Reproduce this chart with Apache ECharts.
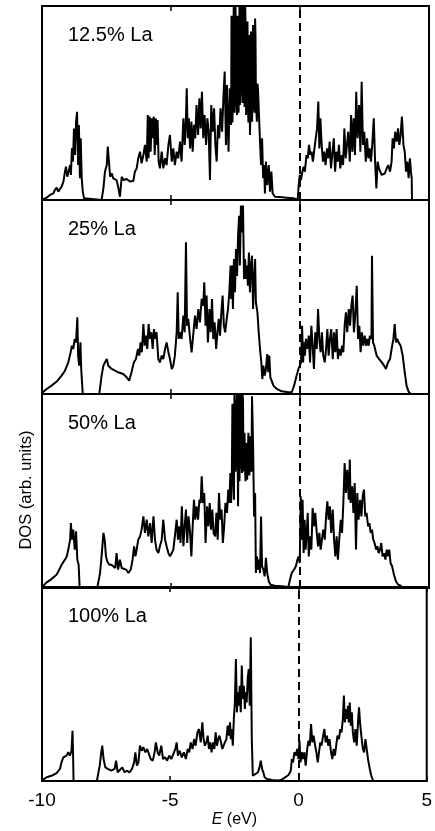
<!DOCTYPE html>
<html><head><meta charset="utf-8">
<script src="https://cdn.jsdelivr.net/npm/echarts@6/dist/echarts.min.js"></script>
<style>html,body{margin:0;padding:0;background:#fff}#c{width:435px;height:831px}</style>
</head><body><div id="c"></div>
<script>
const panelLabels = ['12.5% La', '25% La', '50% La', '100% La'];
const xTicks = [-10, -5, 0, 5];
const tickLabels = ['-10', '-5', '0', '5'];

// [E (eV), DOS (arb. units)]
const dos125 = [[-10,0],[-9.95,0],[-9.82,1.2],[-9.69,2.6],[-9.56,3.4],[-9.50,5.2],[-9.43,6.4],[-9.37,4.3],[-9.30,3.4],[-9.24,6.9],[-9.17,9.5],[-9.11,14.6],[-9.07,17.2],[-9.02,12],[-8.97,14.6],[-8.91,18],[-8.88,12.9],[-8.84,26.6],[-8.80,19.8],[-8.76,36.9],[-8.72,23.2],[-8.68,40.4],[-8.64,45.5],[-8.60,18],[-8.57,38.7],[-8.53,11.2],[-8.50,31.8],[-8.46,11.2],[-8.42,4.3],[-8.37,0.9],[-8.33,0],[-7.69,0],[-7.62,6],[-7.56,14.6],[-7.49,18],[-7.45,27.5],[-7.40,28.4],[-7.36,12],[-7.30,13.7],[-7.24,11.2],[-7.17,12],[-7.11,10.3],[-7.05,6.9],[-6.98,1.7],[-6.91,12],[-6.85,10.3],[-6.72,10.8],[-6.59,9.5],[-6.46,9.8],[-6.40,14.6],[-6.33,16.3],[-6.27,21.5],[-6.20,24.9],[-6.14,18.9],[-6.07,23.2],[-6.01,28.4],[-5.94,19.8],[-5.90,43.8],[-5.87,21.5],[-5.83,43],[-5.79,24.9],[-5.75,42.1],[-5.71,31.8],[-5.67,43],[-5.63,23.2],[-5.59,42.1],[-5.56,28.4],[-5.52,41.2],[-5.48,19.8],[-5.43,16.3],[-5.36,24.9],[-5.30,16.3],[-5.23,21.5],[-5.17,18],[-5.10,28.4],[-5.04,33.5],[-4.97,19.8],[-4.91,26.6],[-4.85,18],[-4.78,24.9],[-4.72,21.5],[-4.65,30.1],[-4.59,19.8],[-4.52,42.1],[-4.47,28.4],[-4.43,38.7],[-4.39,57.6],[-4.35,31.8],[-4.31,42.1],[-4.26,26.6],[-4.21,40.4],[-4.16,24.9],[-4.11,38.7],[-4.06,31.8],[-4.01,49],[-3.95,33.5],[-3.90,52.4],[-3.85,36.9],[-3.80,55.8],[-3.75,31.8],[-3.70,43.8],[-3.64,28.4],[-3.59,42.1],[-3.54,35.2],[-3.49,10.3],[-3.44,49],[-3.38,35.2],[-3.33,47.3],[-3.28,28.4],[-3.23,19.8],[-3.18,38.7],[-3.13,31.8],[-3.08,47.3],[-3.02,35.2],[-2.97,52.4],[-2.92,66.2],[-2.87,28.4],[-2.83,59.3],[-2.77,24.9],[-2.72,57.6],[-2.67,38.7],[-2.64,83.3],[-2.60,49],[-2.56,105],[-2.52,57.6],[-2.48,78.2],[-2.44,43.8],[-2.40,69.6],[-2.36,79.9],[-2.33,49],[-2.29,74.7],[-2.25,105],[-2.21,57.6],[-2.17,83.3],[-2.13,105],[-2.09,43.8],[-2.05,74.7],[-2.02,52.4],[-1.98,69.6],[-1.94,33.5],[-1.90,86.8],[-1.86,40.4],[-1.82,90.2],[-1.78,49],[-1.74,93.6],[-1.71,55.8],[-1.67,40.4],[-1.63,57.6],[-1.59,43.8],[-1.55,30.1],[-1.51,18],[-1.47,31.8],[-1.43,11.2],[-1.39,18],[-1.36,3.4],[-1.32,19.8],[-1.27,7.7],[-1.21,18],[-1.16,4.3],[-1.11,14.6],[-1.06,3.4],[-0.97,1.7],[-0.78,1.5],[-0.52,1.2],[-0.26,0.9],[-0.09,0.2],[-0.05,7.7],[-0.01,12.9],[0.04,10.3],[0.09,14.6],[0.14,17.2],[0.19,14.6],[0.25,23.2],[0.30,21.5],[0.35,28.4],[0.40,23.2],[0.45,24.9],[0.50,19.8],[0.56,26.6],[0.61,31.8],[0.66,36.9],[0.71,50.7],[0.75,26.6],[0.79,42.1],[0.84,28.4],[0.89,19.8],[0.94,24.9],[0.99,18],[1.05,26.6],[1.10,21.5],[1.15,30.1],[1.20,16.3],[1.25,23.2],[1.31,31.8],[1.36,14.6],[1.41,24.9],[1.46,19.8],[1.51,28.4],[1.56,16.3],[1.62,23.2],[1.67,18],[1.72,36.9],[1.77,21.5],[1.82,28.4],[1.87,35.2],[1.93,19.8],[1.98,43.8],[2.03,24.9],[2.08,42.1],[2.13,23.2],[2.18,55.8],[2.23,31.8],[2.29,49],[2.34,24.9],[2.39,60.9],[2.44,28.4],[2.49,35.2],[2.55,19.8],[2.60,31.8],[2.65,21.5],[2.70,26.6],[2.75,19.8],[2.80,28.4],[2.86,42.1],[2.91,19.8],[2.96,6],[3.01,19.8],[3.06,16.3],[3.11,14.6],[3.17,12.9],[3.23,12],[3.29,13.7],[3.36,16.3],[3.42,18],[3.49,14.6],[3.55,19.8],[3.59,31.8],[3.64,26.6],[3.69,35.2],[3.75,30.1],[3.80,36.9],[3.85,28.4],[3.90,33.5],[3.95,43],[4.01,28.4],[4.06,24.9],[4.11,14.6],[4.16,19.8],[4.21,11.2],[4.26,21.5],[4.30,14.6],[4.33,11.2],[4.34,0],[5,0]];
// extra samples in the densely oscillating main valence peak (12.5% La)
const dos125Dense = [[-2.655,95],[-2.62,40],[-2.58,90],[-2.54,45],[-2.50,100],[-2.46,50],[-2.42,95],[-2.38,45],[-2.345,100],[-2.31,55],[-2.27,100],[-2.23,50],[-2.19,105],[-2.15,48],[-2.11,90],[-2.07,55],[-2.035,92],[-2.0,40],[-1.96,85],[-1.92,45],[-1.88,80],[-1.84,50],[-1.80,75],[-1.76,45],[-1.725,85],[-1.69,45],[-1.65,60]];

const dos25 = [[-10,0.5],[-9.97,1.2],[-9.82,2.6],[-9.63,4.3],[-9.43,6.4],[-9.24,9.5],[-9.11,12],[-8.98,16.3],[-8.89,21.5],[-8.84,24.9],[-8.79,23.2],[-8.73,28.4],[-8.68,26.6],[-8.63,39.5],[-8.60,19.8],[-8.56,14.6],[-8.51,26.6],[-8.48,12.9],[-8.42,0],[-7.78,0],[-7.69,9.5],[-7.62,14.6],[-7.56,16.3],[-7.49,18],[-7.43,14.6],[-7.36,15.5],[-7.30,12.9],[-7.24,13.7],[-7.17,12],[-7.11,12.9],[-7.05,11.2],[-6.98,12],[-6.85,10.3],[-6.72,8.6],[-6.62,6.9],[-6.53,11.2],[-6.44,16.3],[-6.36,18],[-6.28,23.2],[-6.23,19.8],[-6.18,26.6],[-6.13,21.5],[-6.07,36.1],[-6.02,24.9],[-5.97,30.1],[-5.92,23.2],[-5.87,36.1],[-5.81,28.4],[-5.76,31.8],[-5.71,23.2],[-5.66,33.5],[-5.61,28.4],[-5.56,31.8],[-5.49,18],[-5.43,16.3],[-5.36,19.8],[-5.30,18],[-5.23,23.2],[-5.17,26.6],[-5.10,21.5],[-5.04,18],[-4.97,12.9],[-4.91,14.6],[-4.85,19.8],[-4.78,31.8],[-4.74,52.4],[-4.70,28.4],[-4.65,31.8],[-4.59,28.4],[-4.52,40.4],[-4.47,31.8],[-4.42,78.2],[-4.38,35.2],[-4.33,38.7],[-4.26,28.4],[-4.20,21.5],[-4.13,31.8],[-4.07,40.4],[-4.01,33.5],[-3.94,43.8],[-3.88,36.9],[-3.81,49],[-3.75,45.5],[-3.71,57.6],[-3.66,35.2],[-3.62,50.7],[-3.57,26.6],[-3.51,43.8],[-3.46,31.8],[-3.41,49],[-3.36,28.4],[-3.31,36.9],[-3.25,23.2],[-3.20,31.8],[-3.15,38.7],[-3.10,30.1],[-3.04,43.8],[-3.00,50.7],[-2.95,35.2],[-2.90,31.8],[-2.84,38.7],[-2.79,43.8],[-2.74,52.4],[-2.69,66.2],[-2.67,49],[-2.64,66.2],[-2.60,43.8],[-2.56,69.6],[-2.52,52.4],[-2.48,74.7],[-2.44,60.9],[-2.40,81.6],[-2.36,91.9],[-2.33,66.2],[-2.29,97.1],[-2.25,83.3],[-2.21,97.1],[-2.17,59.3],[-2.13,69.6],[-2.09,59.3],[-2.05,66.2],[-2.02,55.8],[-1.98,72.9],[-1.94,52.4],[-1.90,66.2],[-1.86,71.3],[-1.82,43.8],[-1.78,59.3],[-1.74,69.6],[-1.71,47.3],[-1.65,42.1],[-1.60,31.8],[-1.55,23.2],[-1.50,16.3],[-1.46,7.7],[-1.42,14.6],[-1.37,9.5],[-1.32,12.9],[-1.27,20.6],[-1.23,11.2],[-1.19,19.8],[-1.15,8.6],[-1.10,6.9],[-1.03,4.3],[-0.90,2.6],[-0.71,1.4],[-0.45,0.9],[-0.32,0.9],[-0.23,4.3],[-0.13,9.5],[-0.06,12.9],[0,13.7],[0.04,16.3],[0.08,35.2],[0.12,16.3],[0.16,26.6],[0.19,19.8],[0.23,28.4],[0.28,23.2],[0.34,30.1],[0.39,16.3],[0.44,35.2],[0.49,24.9],[0.54,12.9],[0.59,31.8],[0.65,23.2],[0.70,43.8],[0.75,28.4],[0.80,21.5],[0.85,31.8],[0.90,19.8],[0.96,16.3],[1.01,23.2],[1.06,33.5],[1.11,19.8],[1.16,28.4],[1.21,33.5],[1.27,18],[1.32,31.8],[1.37,21.5],[1.42,33.5],[1.47,18],[1.52,23.2],[1.58,19.8],[1.63,24.9],[1.68,21.5],[1.73,35.2],[1.78,42.1],[1.83,31.8],[1.89,43.8],[1.94,35.2],[1.99,45.5],[2.04,50.7],[2.09,31.8],[2.14,40.4],[2.20,55.8],[2.25,28.4],[2.30,35.2],[2.35,21.5],[2.40,31.8],[2.45,24.9],[2.51,30.1],[2.56,24.9],[2.61,28.4],[2.66,24.9],[2.71,30.1],[2.77,28.4],[2.79,71.3],[2.83,26.6],[2.88,24.9],[2.97,19.8],[3.07,18],[3.17,16.3],[3.26,14.6],[3.33,12.9],[3.41,16.3],[3.49,18],[3.55,23.2],[3.62,28.4],[3.67,36.1],[3.72,26.6],[3.77,28.4],[3.82,26.6],[3.90,24.9],[3.98,19.8],[4.06,11.2],[4.13,4.3],[4.21,1.2],[4.29,0],[5,0]];

const dos50 = [[-10,0.5],[-9.97,1.2],[-9.82,2.9],[-9.63,4.6],[-9.43,6.9],[-9.30,10.3],[-9.24,12],[-9.17,11.2],[-9.11,14.6],[-9.04,16.3],[-8.98,19.8],[-8.91,24.9],[-8.88,33.5],[-8.84,24.9],[-8.79,30.1],[-8.73,19.8],[-8.68,29.2],[-8.63,14.6],[-8.58,12],[-8.54,0],[-7.86,0],[-7.75,7.7],[-7.68,18],[-7.62,28.4],[-7.57,24.9],[-7.52,16.3],[-7.47,13.7],[-7.39,12],[-7.31,12],[-7.24,11.2],[-7.16,10.3],[-7.11,18],[-7.05,9.5],[-6.98,14.6],[-6.91,10.3],[-6.85,11.2],[-6.74,9.5],[-6.65,7.7],[-6.56,9.5],[-6.49,14.6],[-6.43,21.5],[-6.38,16.3],[-6.33,19.8],[-6.27,24.9],[-6.20,26.6],[-6.14,30.1],[-6.07,36.9],[-6.01,28.4],[-5.94,35.2],[-5.88,26.6],[-5.81,33.5],[-5.75,23.2],[-5.68,36.9],[-5.62,24.9],[-5.56,19.8],[-5.49,18],[-5.43,21.5],[-5.36,24.9],[-5.30,35.2],[-5.23,24.9],[-5.17,21.5],[-5.10,18],[-5.04,16.3],[-4.97,18],[-4.91,19.8],[-4.85,26.6],[-4.78,35.2],[-4.73,24.9],[-4.68,31.8],[-4.63,23.2],[-4.58,42.1],[-4.52,21.5],[-4.47,31.8],[-4.42,40.4],[-4.37,23.2],[-4.32,36.9],[-4.26,28.4],[-4.21,16.3],[-4.16,31.8],[-4.11,45.5],[-4.06,35.2],[-4.01,42.1],[-3.95,35.2],[-3.90,45.5],[-3.85,43.8],[-3.81,57.6],[-3.76,43.8],[-3.71,49],[-3.66,23.2],[-3.60,42.1],[-3.55,31.8],[-3.50,43.8],[-3.45,30.1],[-3.40,40.4],[-3.35,28.4],[-3.29,26.6],[-3.24,38.7],[-3.19,24.9],[-3.14,49],[-3.09,35.2],[-3.04,40.4],[-2.99,23.2],[-2.94,31.8],[-2.89,43.8],[-2.83,38.7],[-2.78,50.7],[-2.74,43.8],[-2.70,59.3],[-2.67,43.8],[-2.64,60.9],[-2.60,78.2],[-2.56,45.5],[-2.52,91.9],[-2.48,66.2],[-2.44,105],[-2.40,42.1],[-2.36,93.6],[-2.33,79.9],[-2.29,105],[-2.25,59.3],[-2.21,97.1],[-2.17,74.7],[-2.13,60.9],[-2.09,74.7],[-2.05,55.8],[-2.02,71.3],[-1.98,64.4],[-1.94,78.2],[-1.90,69.6],[-1.86,98.8],[-1.82,74.7],[-1.78,36.9],[-1.74,49],[-1.71,7.7],[-1.67,16.3],[-1.63,9.5],[-1.59,14.6],[-1.55,7.7],[-1.51,36.9],[-1.47,11.2],[-1.42,9.5],[-1.37,6],[-1.32,15.5],[-1.27,7.7],[-1.21,3.4],[-1.14,1.7],[-0.97,1.2],[-0.71,0.9],[-0.45,0.5],[-0.39,4.3],[-0.32,7.7],[-0.23,9.5],[-0.16,11.2],[-0.10,14.6],[-0.05,16.3],[-0.01,12.9],[0.03,47.3],[0.06,24.9],[0.10,45.5],[0.14,18],[0.18,35.2],[0.22,19.8],[0.26,28.4],[0.30,38.7],[0.34,16.3],[0.39,26.6],[0.44,19.8],[0.49,41.2],[0.54,31.8],[0.59,38.7],[0.65,28.4],[0.70,21.5],[0.75,28.4],[0.80,19.8],[0.85,24.9],[0.90,30.1],[0.96,24.9],[1.01,36.9],[1.06,44.7],[1.11,35.2],[1.16,42.1],[1.21,28.4],[1.27,40.4],[1.32,24.9],[1.37,16.3],[1.42,26.6],[1.47,14.6],[1.52,24.9],[1.58,35.2],[1.63,28.4],[1.68,43.8],[1.73,64.4],[1.78,49],[1.83,60.9],[1.89,45.5],[1.93,66.2],[1.96,43.8],[2.02,52.4],[2.07,38.7],[2.12,54.1],[2.17,19.8],[2.22,49],[2.27,35.2],[2.33,45.5],[2.38,36.9],[2.43,47.3],[2.48,50.7],[2.53,36.9],[2.58,38.7],[2.64,31.8],[2.69,33.5],[2.74,28.4],[2.79,30.1],[2.84,24.9],[2.89,23.2],[2.95,19.8],[3.00,21.5],[3.05,18],[3.10,19.8],[3.15,23.2],[3.20,16.3],[3.26,18],[3.31,14.6],[3.36,19.8],[3.41,16.3],[3.46,19.8],[3.51,12.9],[3.57,11.2],[3.64,6.9],[3.72,3.4],[3.81,1.7],[3.90,1.2],[3.98,0],[5,0]];
// extra samples in the densely oscillating main valence peak (50% La)
const dos50Dense = [[-2.62,95],[-2.58,55],[-2.54,100],[-2.50,60],[-2.46,90],[-2.42,70],[-2.38,100],[-2.345,55],[-2.31,95],[-2.27,65],[-2.23,100],[-2.19,60],[-2.15,80],[-2.11,55],[-2.07,75],[-2.035,60],[-2.0,80],[-1.96,58],[-1.92,75],[-1.88,60]];

const dos100 = [[-10,0.5],[-9.97,1],[-9.82,1.9],[-9.63,2.7],[-9.43,4.1],[-9.30,6.2],[-9.24,9.6],[-9.17,12.2],[-9.11,11.3],[-9.04,13.1],[-8.98,14.8],[-8.91,13.1],[-8.85,15.6],[-8.81,25.9],[-8.79,14.8],[-8.77,0],[-7.86,0],[-7.75,7.9],[-7.69,14.8],[-7.65,18.2],[-7.60,11.3],[-7.53,7],[-7.43,6.2],[-7.30,5.3],[-7.17,6.2],[-7.11,10.5],[-7.05,4.5],[-6.98,5.3],[-6.87,7],[-6.78,4.5],[-6.69,5.3],[-6.59,4.5],[-6.49,6.2],[-6.41,9.6],[-6.36,14.8],[-6.30,7.9],[-6.24,9.6],[-6.18,18.2],[-6.11,15.6],[-6.05,17.4],[-5.97,14.8],[-5.90,16.5],[-5.84,15.6],[-5.76,11.3],[-5.68,10.5],[-5.61,14.8],[-5.56,19.9],[-5.49,14.8],[-5.43,13.1],[-5.35,18.2],[-5.28,11.3],[-5.20,12.2],[-5.12,10.5],[-5.04,13.1],[-4.96,11.3],[-4.88,13.9],[-4.80,16.5],[-4.75,19.9],[-4.70,13.1],[-4.63,15.6],[-4.55,12.2],[-4.47,14.8],[-4.39,11.3],[-4.32,16.5],[-4.26,14.8],[-4.20,19.9],[-4.13,16.5],[-4.07,21.6],[-4.01,18.2],[-3.94,25.1],[-3.88,26.8],[-3.81,19.9],[-3.75,30.2],[-3.70,21.6],[-3.65,18.2],[-3.59,19.9],[-3.54,23.4],[-3.49,16.5],[-3.44,19.9],[-3.39,14.8],[-3.33,19.9],[-3.28,16.5],[-3.23,25.1],[-3.18,18.2],[-3.13,21.6],[-3.08,23.4],[-3.02,19.9],[-2.97,16.5],[-2.92,18.2],[-2.87,19.9],[-2.81,21.6],[-2.76,28.5],[-2.71,23.4],[-2.67,30.2],[-2.64,21.6],[-2.60,26.8],[-2.56,18.2],[-2.52,32],[-2.48,40.5],[-2.44,62.9],[-2.40,35.4],[-2.36,45.7],[-2.33,38.8],[-2.29,49.1],[-2.25,35.4],[-2.21,59.5],[-2.17,42.3],[-2.13,49.1],[-2.09,37.1],[-2.05,45.7],[-2.02,40.5],[-1.98,52.6],[-1.94,57.7],[-1.90,38.8],[-1.86,74.1],[-1.82,21.6],[-1.78,2.7],[-1.73,1.9],[-1.68,3.6],[-1.63,2.7],[-1.58,4.5],[-1.52,7],[-1.47,10.5],[-1.42,6.2],[-1.37,4.5],[-1.32,1.9],[-1.23,1],[-1.03,0.5],[-0.78,0.3],[-0.65,0.7],[-0.52,1.9],[-0.39,3.1],[-0.30,5.3],[-0.26,11.3],[-0.21,9.6],[-0.16,14.8],[-0.10,13.1],[-0.05,16.5],[0,11.3],[0.04,20.8],[0.08,9.6],[0.13,14.8],[0.18,11.3],[0.23,14.8],[0.28,7.9],[0.34,16.5],[0.39,20.8],[0.44,18.2],[0.49,29.4],[0.54,19.9],[0.59,23.4],[0.65,18.2],[0.70,14.8],[0.75,9.6],[0.80,14.8],[0.85,19.9],[0.90,18.2],[0.96,23.4],[1.01,26.8],[1.06,19.9],[1.11,23.4],[1.16,18.2],[1.21,21.6],[1.27,14.8],[1.32,11.3],[1.37,16.5],[1.42,13.1],[1.47,18.2],[1.52,23.4],[1.58,21.6],[1.63,26.8],[1.68,25.1],[1.73,32],[1.77,44],[1.81,30.2],[1.85,37.1],[1.89,32],[1.93,38.8],[1.96,30.2],[2.00,40.5],[2.04,28.5],[2.08,35.4],[2.12,25.1],[2.17,19.9],[2.22,26.8],[2.27,18.2],[2.33,32],[2.36,38],[2.40,30.2],[2.45,23.4],[2.51,16.5],[2.56,14.8],[2.61,21.6],[2.66,16.5],[2.71,11.3],[2.78,6.2],[2.84,2.7],[2.92,0],[5,0]];

const byEnergy = (a, b) => a[0] - b[0];
const panels = [
  dos125.concat(dos125Dense).sort(byEnergy),
  dos25,
  dos50.concat(dos50Dense).sort(byEnergy),
  dos100
];
const FONT = '"Liberation Sans", Arial, Helvetica, sans-serif';
const tops = [6, 200, 394, 587];
const H = 194;

const grid = [], xAxis = [], yAxis = [], series = [], graphic = [];
tops.forEach((t, i) => {
  grid.push({left: 42, width: 387, top: t, height: H, show: true, borderColor: '#000', borderWidth: 2, backgroundColor: 'transparent'});
  const last = i === tops.length - 1;
  const base = {
    type: 'value', gridIndex: i, min: xTicks[0], max: xTicks[xTicks.length - 1], interval: 5,
    axisLine: {show: false}, splitLine: {show: false},
    axisTick: {show: true, inside: true, length: 5, lineStyle: {color: '#000', width: 1.5}}
  };
  xAxis.push(Object.assign({}, base, {
    position: 'bottom',
    axisLabel: {show: last, margin: 10, fontSize: 19, color: '#000', fontFamily: FONT, showMinLabel: true, showMaxLabel: true,
      formatter: v => tickLabels[xTicks.indexOf(v)] ?? ''},
    name: last ? '{i|E} (eV)' : '', nameLocation: 'middle', nameGap: 31,
    nameTextStyle: {fontSize: 16, color: '#000', fontFamily: FONT, rich: {i: {fontStyle: 'italic', fontSize: 16, color: '#000', fontFamily: FONT}}}
  }));
  xAxis.push(Object.assign({}, base, {position: 'top', axisLabel: {show: false}}));
  yAxis.push({type: 'value', gridIndex: i, min: 0, max: 100, show: false});
  series.push({
    type: 'line', xAxisIndex: 2 * i, yAxisIndex: i, data: panels[i], showSymbol: false, symbol: 'none',
    clip: true, lineStyle: {color: '#000', width: 2}, animation: false, silent: true,
    markLine: {silent: true, symbol: ['none', 'none'], label: {show: false}, animation: false,
      lineStyle: {color: '#000', width: 2, type: [8, 5]}, data: [{xAxis: 0}]}
  });
  graphic.push({type: 'text', x: 68, y: t + 29.5, style: {text: panelLabels[i], fontSize: 20, fontFamily: FONT, fill: '#000', verticalAlign: 'middle', align: 'left'}});
});
graphic.push({type: 'text', x: 26, y: 490, rotation: Math.PI / 2, style: {text: 'DOS (arb. units)', fontSize: 16.5, fontFamily: FONT, fill: '#000', align: 'center', verticalAlign: 'middle'}});

const chart = echarts.init(document.getElementById('c'), null, {renderer: 'canvas'});
chart.setOption({animation: false, backgroundColor: '#fff', grid, xAxis, yAxis, series, graphic});
</script>
</body></html>
